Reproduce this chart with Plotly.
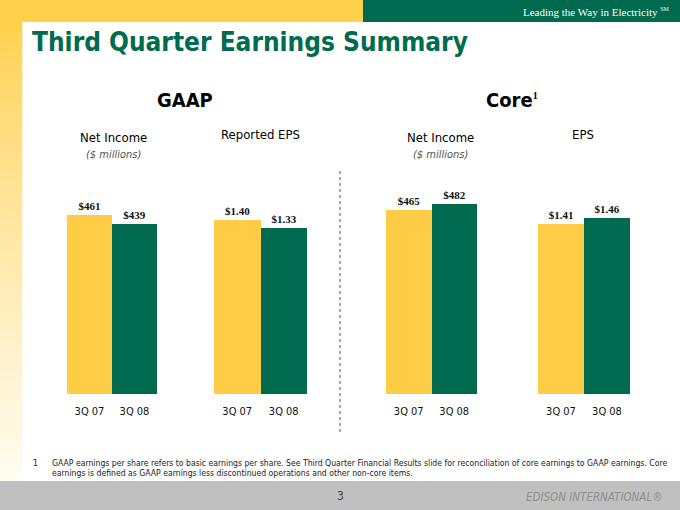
import plotly.graph_objects as go

W, H = 680, 510

# ---------------- data ----------------
periods = ["3Q 07", "3Q 08"]
gaap_net_income = [461, 439]
gaap_eps = [1.40, 1.33]
core_net_income = [465, 482]
core_eps = [1.41, 1.46]

panel_titles = ["Net Income", "Reported EPS", "Net Income", "EPS"]
section_titles = ["GAAP", "Core<sup><span style='font-size:10px;font-family:Liberation Serif'>1</span></sup>"]
title_text = "Third Quarter Earnings Summary"
tagline = "Leading the Way in Electricity <sup><span style='font-size:6px'>SM</span></sup>"
footnote_l1 = ("GAAP earnings per share refers to basic earnings per share. See Third Quarter Financial Results slide "
               "for reconciliation of core earnings to GAAP earnings. Core")
footnote_l2 = "earnings is defined as GAAP earnings less discontinued operations and other non-core items."
page_no = "3"
brand = "EDISON INTERNATIONAL\u00ae"

YELLOW = "#FFCC46"
GREEN = "#006A4E"
FONT = "DejaVu Sans Condensed, DejaVu Sans, sans-serif"


def X(px):
    return px / W


def Y(py):
    return 1 - py / H


fig = go.Figure()

series = [gaap_net_income, gaap_eps, core_net_income, core_eps]
fmts = ["$%{y:.0f}", "$%{y:.2f}", "$%{y:.0f}", "$%{y:.2f}"]
xdoms = [(67, 157), (214, 307), (386, 477), (538, 630)]
ymax = [629, 1.960, 617.7, 2.027]
ydom = (Y(394), Y(150))

for i, vals in enumerate(series):
    n = "" if i == 0 else str(i + 1)
    fig.add_trace(go.Bar(
        x=periods, y=vals,
        marker=dict(color=[YELLOW, GREEN], line=dict(width=0)),
        texttemplate=fmts[i], textposition="outside",
        textfont=dict(family="Liberation Serif, serif", size=11, color="#111", weight="bold"),
        cliponaxis=False, showlegend=False,
        xaxis="x" + n, yaxis="y" + n, hoverinfo="skip",
    ))
    fig.layout["xaxis" + n] = dict(
        domain=[X(xdoms[i][0]), X(xdoms[i][1])], anchor="y" + n,
        range=[-0.5, 1.5], showgrid=False, zeroline=False, showline=False,
        ticks="outside", ticklen=7, tickcolor="rgba(0,0,0,0)",
        tickfont=dict(family=FONT, size=11, color="#111"), fixedrange=True,
    )
    fig.layout["yaxis" + n] = dict(
        domain=list(ydom), anchor="x" + n, range=[0, ymax[i]],
        showgrid=False, zeroline=False, showline=False, showticklabels=False,
        fixedrange=True,
    )

shapes = []
# top yellow band
shapes.append(dict(type="rect", xref="paper", yref="paper", x0=0, x1=1, y0=Y(22), y1=1,
                   fillcolor="#FFD04C", line_width=0, layer="below"))
# left gradient band
steps = 46
top, bot = 22, 481
for k in range(steps):
    t = k / (steps - 1)
    g = int(round(208 + (252 - 208) * t ** 0.8))
    b = int(round(76 + (240 - 76) * t ** 0.8))
    y0 = top + (bot - top) * k / steps
    y1 = top + (bot - top) * (k + 1) / steps + 1.5
    shapes.append(dict(type="rect", xref="paper", yref="paper", x0=0, x1=X(22),
                       y0=Y(min(y1, bot)), y1=Y(y0), fillcolor=f"rgb(255,{g},{b})",
                       line=dict(width=0.6, color=f"rgb(255,{g},{b})"), layer="below"))
# green header box
shapes.append(dict(type="rect", xref="paper", yref="paper", x0=X(363), x1=1, y0=Y(22), y1=1,
                   fillcolor="#006A4E", line_width=0, layer="below"))
# footer band
shapes.append(dict(type="rect", xref="paper", yref="paper", x0=0, x1=1, y0=0, y1=Y(481),
                   fillcolor="#C0C0C0", line_width=0, layer="below"))
# dotted divider
shapes.append(dict(type="line", xref="paper", yref="paper", x0=X(340), x1=X(340), y0=Y(432), y1=Y(170),
                   line=dict(color="#555", width=1, dash="dot")))

ann = []


def text(x, y, s, size, color="#000", family=FONT, xanchor="center", bold=False, italic=False):
    ann.append(dict(x=X(x), y=Y(y), xref="paper", yref="paper", text=s, showarrow=False,
                    xanchor=xanchor, yanchor="middle",
                    font=dict(size=size, color=color, family=family,
                              weight="bold" if bold else "normal",
                              style="italic" if italic else "normal")))


text(672, 12, tagline, 11, "white", "Liberation Serif, serif", xanchor="right")
text(30, 42, title_text, 26, "#006B4F", xanchor="left", bold=True)
text(185, 100, section_titles[0], 20, bold=True)
text(512, 100, section_titles[1], 20, bold=True)
text(114, 138, panel_titles[0], 13)
text(114, 154, "($ millions)", 11, "#555", italic=True)
text(260, 135, panel_titles[1], 13)
text(440, 138, panel_titles[2], 13)
text(440, 154, "($ millions)", 11, "#555", italic=True)
text(583, 135, panel_titles[3], 13)
text(35, 463, "1", 8.6, "#222")
text(50, 463, footnote_l1, 8.6, "#222", xanchor="left")
text(50, 473, footnote_l2, 8.6, "#222", xanchor="left")
text(340, 496, page_no, 12, "#444")
text(665, 497, brand, 11.5, "#8f8f8f", xanchor="right", italic=True)

fig.update_layout(
    width=W, height=H, margin=dict(l=0, r=0, t=0, b=0),
    paper_bgcolor="white", plot_bgcolor="rgba(0,0,0,0)",
    bargap=0, shapes=shapes, annotations=ann,
)

fig.write_html("out.html", config={"displayModeBar": False},
               post_script="document.body.style.margin='0';document.body.style.overflow='hidden';")
